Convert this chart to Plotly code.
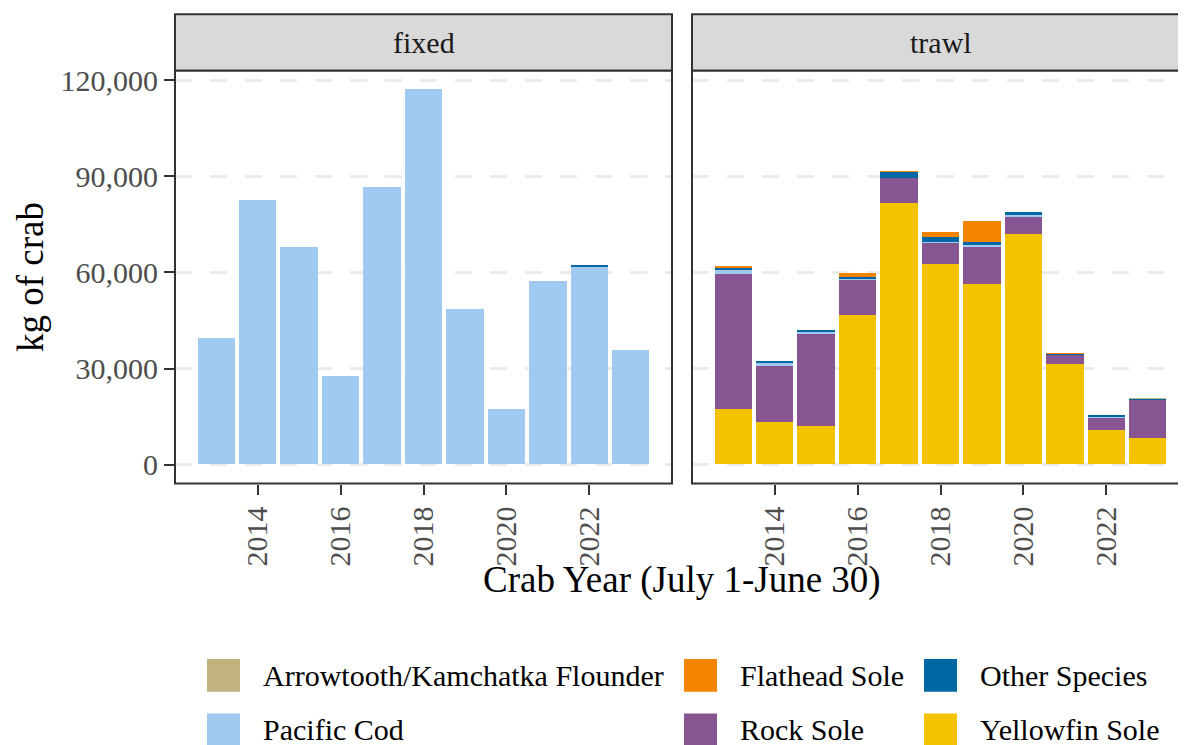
import plotly.graph_objects as go

# ---------------- data ----------------
years = [2013, 2014, 2015, 2016, 2017, 2018, 2019, 2020, 2021, 2022, 2023]
tick_years = [2014, 2016, 2018, 2020, 2022]
y_ticks = [0, 30000, 60000, 90000, 120000]

# legend order (column-major: 3 columns x 2 rows)
species = ["Arrowtooth/Kamchatka Flounder", "Pacific Cod",
           "Flathead Sole", "Rock Sole",
           "Other Species", "Yellowfin Sole"]
colors = {
    "Arrowtooth/Kamchatka Flounder": "#C2B280",
    "Flathead Sole": "#F38400",
    "Other Species": "#0067A5",
    "Pacific Cod": "#A1CAF1",
    "Rock Sole": "#875692",
    "Yellowfin Sole": "#F3C300",
}

# fixed gear
fixed_pacific_cod = [39400, 82500, 67900, 27500, 86400, 117100, 48400, 17200, 57200, 61700, 35500]
fixed_other = [0, 0, 0, 0, 0, 0, 0, 0, 0, 300, 0]

# trawl gear
trawl_yellowfin = [17300, 13300, 12000, 46700, 81500, 62500, 56200, 71900, 31400, 10800, 8300]
trawl_rock = [41900, 17300, 28700, 10800, 7800, 6600, 11700, 5400, 2900, 3700, 12000]
trawl_pacific_cod = [1400, 1200, 700, 600, 0, 300, 600, 400, 0, 300, 0]
trawl_other = [900, 200, 300, 400, 1900, 1600, 700, 1100, 150, 400, 100]
trawl_flathead = [200, 0, 0, 1300, 200, 1400, 6600, 0, 150, 0, 0]
trawl_arrowtooth = [0, 0, 0, 0, 0, 0, 0, 0, 0, 0, 150]

# ---------------- geometry helpers ----------------
# page body has an 8px margin: design in reference pixels, shifted by 8
OFF = 8
W, H = 1186 - OFF, 745 - OFF
def px(x):
    return (x - OFF) / W
def py(y):
    return 1 - (y - OFF) / H

FONT = "Liberation Serif, Times New Roman, serif"
panel_top, panel_bot = 64, 481
strip_top = 7.3
fx0, fx1 = 175, 672
tx0, tx1 = 692, 1189  # trawl panel extends past the right edge
xr0, xr1 = 2012.005, 2023.995
ppu = (fx1 - fx0) / (xr1 - xr0)
x2_end = xr0 + (1186 - tx0) / ppu

fig = go.Figure()

def add_bar(x_axis, y_axis, name, vals):
    fig.add_trace(go.Bar(
        x=years, y=vals, name=name, width=0.9,
        marker=dict(color=colors[name], line=dict(width=0)),
        xaxis=x_axis, yaxis=y_axis, showlegend=False,
    ))

# stacking order: bottom first
add_bar("x", "y", "Pacific Cod", fixed_pacific_cod)
add_bar("x", "y", "Other Species", fixed_other)

add_bar("x2", "y2", "Yellowfin Sole", trawl_yellowfin)
add_bar("x2", "y2", "Rock Sole", trawl_rock)
add_bar("x2", "y2", "Pacific Cod", trawl_pacific_cod)
add_bar("x2", "y2", "Other Species", trawl_other)
add_bar("x2", "y2", "Flathead Sole", trawl_flathead)
add_bar("x2", "y2", "Arrowtooth/Kamchatka Flounder", trawl_arrowtooth)

yrange = [-5856, 122986]
ycommon = dict(
    range=yrange, tickvals=y_ticks, tickformat=",",
    showgrid=True, gridcolor="#EBEBEB", gridwidth=2.5, griddash="17px,18px",
    zeroline=False, showline=False,
    domain=[py(panel_bot), py(panel_top)],
)
xcommon = dict(
    tickvals=tick_years, ticktext=[str(t) for t in tick_years],
    tickangle=-90, ticks="outside", ticklen=10, tickwidth=2.2, tickcolor="#333333",
    tickfont=dict(family=FONT, size=30, color="#4D4D4D"),
    showgrid=False, zeroline=False, showline=False,
)

fig.update_layout(
    width=W, height=H,
    margin=dict(l=0, r=0, t=0, b=0),
    paper_bgcolor="white", plot_bgcolor="white",
    barmode="stack", bargap=0,
    showlegend=False,
    font=dict(family=FONT),
    xaxis=dict(domain=[px(fx0), px(fx1)], range=[xr0, xr1], anchor="y", **xcommon),
    xaxis2=dict(domain=[px(tx0), 1.0], range=[xr0, x2_end], anchor="y2", **xcommon),
    yaxis=dict(anchor="x", ticks="outside", ticklen=10, tickwidth=2.2, tickcolor="#333333",
               tickfont=dict(family=FONT, size=30, color="#4D4D4D"), **ycommon),
    yaxis2=dict(anchor="x2", matches="y", showticklabels=False, ticks="", **ycommon),
)

shapes = []
annotations = []
# panel borders and strips
for (x0, x1, label) in [(fx0, fx1, "fixed"), (tx0, tx1, "trawl")]:
    shapes.append(dict(type="rect", xref="paper", yref="paper",
                       x0=px(x0), x1=px(x1), y0=py(panel_bot), y1=py(panel_top),
                       line=dict(color="#333333", width=2), fillcolor="rgba(0,0,0,0)", layer="above"))
    shapes.append(dict(type="rect", xref="paper", yref="paper",
                       x0=px(x0), x1=px(x1), y0=py(panel_top), y1=py(strip_top),
                       line=dict(color="#333333", width=2), fillcolor="#D9D9D9", layer="above"))
    annotations.append(dict(text=label, xref="paper", yref="paper",
                            x=px((x0 + x1) / 2), y=py((panel_top + strip_top) / 2),
                            xanchor="center", yanchor="middle", showarrow=False,
                            font=dict(family=FONT, size=30, color="#1A1A1A")))

# axis titles
annotations.append(dict(text="Crab Year (July 1-June 30)", xref="paper", yref="paper",
                        x=px((fx0 + tx1) / 2), y=py(578), xanchor="center", yanchor="middle",
                        showarrow=False, font=dict(family=FONT, size=37, color="black")))
annotations.append(dict(text="kg of crab", xref="paper", yref="paper",
                        x=px(31), y=py((panel_top + panel_bot) / 2), xanchor="center", yanchor="middle",
                        textangle=-90, showarrow=False, font=dict(family=FONT, size=37, color="black")))

# legend (2 rows x 3 columns, column-major order)
legend_cols = [207, 684, 924]
legend_text_x = [261, 738, 978]
legend_rows = [674.7, 729.7]
sw = 33
for i, name in enumerate(species):
    c, r = i // 2, i % 2
    cx, cy = legend_cols[c], legend_rows[r]
    shapes.append(dict(type="rect", xref="paper", yref="paper",
                       x0=px(cx), x1=px(cx + sw), y0=py(cy + sw / 2), y1=py(cy - sw / 2),
                       line=dict(width=0), fillcolor=colors[name]))
    annotations.append(dict(text=name, xref="paper", yref="paper",
                            x=px(legend_text_x[c]), y=py(cy), xanchor="left", yanchor="middle",
                            showarrow=False, font=dict(family=FONT, size=30, color="black")))

fig.update_layout(shapes=shapes, annotations=annotations)
fig.write_html("out.html")
